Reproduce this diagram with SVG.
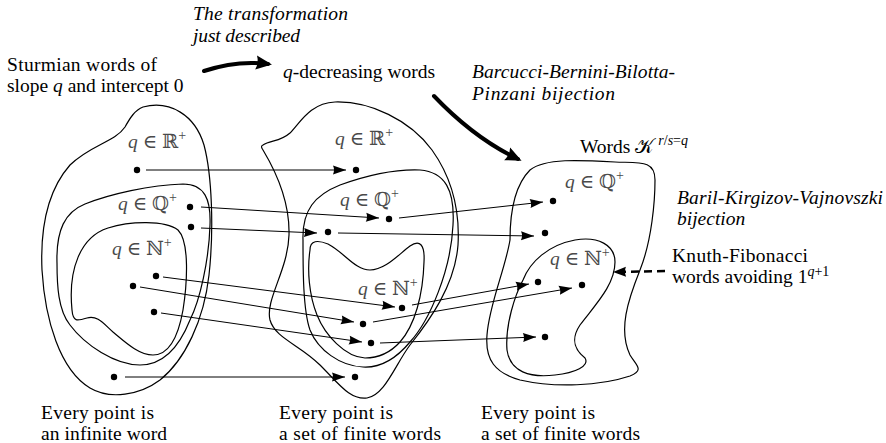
<svg xmlns="http://www.w3.org/2000/svg" width="886" height="443" viewBox="0 0 886 443">
<style>
  text { font-family: "Liberation Serif", "DejaVu Serif", serif; font-size: 19.5px; fill: #000; }
  .it { font-style: italic; }
  .lbl { fill: #4a4a4a; }
  .sup { font-size: 14px; }
  .blob { fill: none; stroke: #000; stroke-width: 1.2; }
  .dot { fill: #000; }
  .thin { fill: none; stroke: #000; stroke-width: 1; marker-end: url(#ah); }
  .thick { fill: none; stroke: #000; stroke-width: 4; stroke-linecap: round; marker-end: url(#ahb); }
  .dash { fill: none; stroke: #000; stroke-width: 2.5; stroke-dasharray: 8 5; marker-end: url(#ahd); }
</style>
<defs>
  <marker id="ah" markerUnits="userSpaceOnUse" markerWidth="14" markerHeight="10" refX="13" refY="4.5" orient="auto" overflow="visible">
    <path d="M0,0 L13,4.5 L0,9 Q2,4.5 0,0 z" fill="#000"/>
  </marker>
  <marker id="ahb" markerUnits="userSpaceOnUse" markerWidth="18" markerHeight="14" refX="12" refY="7" orient="auto" overflow="visible">
    <path d="M0,0 L16,7 L0,14 Q3,7 0,0 z" fill="#000"/>
  </marker>
  <marker id="ahd" markerUnits="userSpaceOnUse" markerWidth="14" markerHeight="10" refX="13" refY="5" orient="auto" overflow="visible">
    <path d="M0,0 L13,5 L0,10 Q2,5 0,0 z" fill="#000"/>
  </marker>
</defs>

<!-- captions -->
<g id="captions">
  <text class="it" x="193" y="20" textLength="155" lengthAdjust="spacing">The transformation</text>
  <text class="it" x="193" y="42" textLength="107" lengthAdjust="spacing">just described</text>
  <text x="7" y="71" textLength="150" lengthAdjust="spacing">Sturmian words of</text>
  <text x="7" y="92">slope <tspan class="it">q</tspan> and intercept 0</text>
  <text x="283" y="78"><tspan class="it">q</tspan>-decreasing words</text>
  <text class="it" x="472" y="78" textLength="203" lengthAdjust="spacing">Barcucci-Bernini-Bilotta-</text>
  <text class="it" x="472" y="100" textLength="143" lengthAdjust="spacing">Pinzani bijection</text>
  <text x="580" y="153">Words 𝒦<tspan class="sup it" dy="-8" dx="4">r</tspan><tspan class="sup">/</tspan><tspan class="sup it">s</tspan><tspan class="sup">=</tspan><tspan class="sup it">q</tspan></text>
  <text class="it" x="677" y="204" textLength="206" lengthAdjust="spacing">Baril-Kirgizov-Vajnovszki</text>
  <text class="it" x="677" y="225">bijection</text>
  <text x="672" y="262" textLength="136" lengthAdjust="spacing">Knuth-Fibonacci</text>
  <text x="672" y="283">words avoiding 1<tspan class="sup it" dy="-7">q</tspan><tspan class="sup">+1</tspan></text>
  <text x="41" y="419" textLength="113" lengthAdjust="spacing">Every point is</text>
  <text x="41" y="440" textLength="126" lengthAdjust="spacing">an infinite word</text>
  <text x="279" y="419" textLength="114" lengthAdjust="spacing">Every point is</text>
  <text x="279" y="440" textLength="162" lengthAdjust="spacing">a set of finite words</text>
  <text x="481" y="419" textLength="114" lengthAdjust="spacing">Every point is</text>
  <text x="481" y="440" textLength="159" lengthAdjust="spacing">a set of finite words</text>
</g>

<!-- left: Sturmian words -->
<g id="left-set">
  <path class="blob" d="M143,107 C170,100 195,115 204,145 C212,175 214,230 209,275 C204,320 185,360 160,380 C140,395 110,400 90,388 C60,370 45,320 42,270 C40,225 48,190 70,165 C90,145 115,142 125,127 C130,118 135,110 143,107 Z"/>
  <path class="blob" d="M57,263 C56,230 65,212 85,204 C110,194 150,185 183,184 C205,184 211,200 210,225 C209,260 200,300 190,320 C180,345 165,365 140,365 C115,365 85,345 70,325 C58,310 57,285 57,263 Z"/>
  <path class="blob" d="M72,310 C68,270 80,237 108,228 C130,221 165,220 178,230 C190,242 187,285 183,310 C178,338 168,355 153,355 C138,355 123,340 113,332 C103,323 97,315 87,318 C77,321 73,322 72,310 Z"/>
  <text class="lbl" x="128" y="148"><tspan class="it">q</tspan> ∈ ℝ<tspan class="sup" dy="-8">+</tspan></text>
  <text class="lbl" x="118" y="210"><tspan class="it">q</tspan> ∈ ℚ<tspan class="sup" dy="-8">+</tspan></text>
  <text class="lbl" x="112" y="255"><tspan class="it">q</tspan> ∈ ℕ<tspan class="sup" dy="-8">+</tspan></text>
  <circle class="dot" cx="137" cy="170" r="3.2"/>
  <circle class="dot" cx="190" cy="207" r="3.2"/>
  <circle class="dot" cx="191" cy="227" r="3.2"/>
  <circle class="dot" cx="156" cy="276" r="3.2"/>
  <circle class="dot" cx="133" cy="286" r="3.2"/>
  <circle class="dot" cx="154" cy="312" r="3.2"/>
  <circle class="dot" cx="114" cy="377" r="3.2"/>
</g>

<!-- middle: q-decreasing words -->
<g id="middle-set">
  <path class="blob" d="M263,145 C270,140 280,142 290,133 C300,123 310,103 335,102 C370,101 410,120 432,150 C452,178 460,210 458,245 C455,285 430,320 410,345 C395,365 385,395 367,398 C350,400 340,385 320,365 C300,345 275,338 270,320 C265,300 288,270 289,235 C290,200 275,170 263,150 C261,147 261,146 263,145 Z"/>
  <path class="blob" d="M303,240 C302,210 315,195 340,185 C365,176 395,169 420,170 C445,172 455,190 453,225 C451,270 430,320 410,342 C395,360 380,368 363,367 C340,366 318,350 310,330 C303,310 303,270 303,240 Z"/>
  <path class="blob" d="M310,250 C310,240 318,240 328,244 C345,253 355,270 370,270 C385,270 398,255 410,246 C420,239 425,245 424,262 C423,295 415,325 400,342 C390,353 378,358 365,358 C345,357 325,335 317,315 C309,295 307,270 310,250 Z"/>
  <text class="lbl" x="335" y="145"><tspan class="it">q</tspan> ∈ ℝ<tspan class="sup" dy="-8">+</tspan></text>
  <text class="lbl" x="340" y="206"><tspan class="it">q</tspan> ∈ ℚ<tspan class="sup" dy="-8">+</tspan></text>
  <text class="lbl" x="358" y="295"><tspan class="it">q</tspan> ∈ ℕ<tspan class="sup" dy="-8">+</tspan></text>
  <circle class="dot" cx="356" cy="170" r="3.2"/>
  <circle class="dot" cx="389" cy="219" r="3.2"/>
  <circle class="dot" cx="328" cy="232" r="3.2"/>
  <circle class="dot" cx="402" cy="308" r="3.2"/>
  <circle class="dot" cx="363" cy="324" r="3.2"/>
  <circle class="dot" cx="371" cy="343" r="3.2"/>
  <circle class="dot" cx="355" cy="377" r="3.2"/>
</g>

<!-- right: words K -->
<g id="right-set">
  <path class="blob" d="M510,240 C510,210 515,185 530,170 C545,158 580,160 615,162 C640,163 655,160 655,180 C655,200 652,240 640,270 C628,300 618,330 630,355 C636,365 645,370 630,376 C600,386 555,388 520,380 C495,373 485,360 487,335 C489,305 505,270 510,240 Z"/>
  <path class="blob" d="M523,280 C530,262 548,245 575,240 C598,236 615,245 615,262 C615,285 595,305 580,325 C570,340 575,350 585,358 C590,366 575,373 555,375 C530,378 510,372 507,350 C505,325 515,295 523,280 Z"/>
  <text class="lbl" x="565" y="188"><tspan class="it">q</tspan> ∈ ℚ<tspan class="sup" dy="-8">+</tspan></text>
  <text class="lbl" x="550" y="265"><tspan class="it">q</tspan> ∈ ℕ<tspan class="sup" dy="-8">+</tspan></text>
  <circle class="dot" cx="553" cy="201" r="3.2"/>
  <circle class="dot" cx="545" cy="233" r="3.2"/>
  <circle class="dot" cx="538" cy="282" r="3.2"/>
  <circle class="dot" cx="582" cy="285" r="3.2"/>
  <circle class="dot" cx="545" cy="337" r="3.2"/>
</g>

<!-- connectors -->
<g id="connectors">
  <path class="thick" d="M204,71 C225,64 245,61 268,64"/>
  <path class="thick" d="M434,96 C455,118 482,142 518,159"/>
  <line class="dash" x1="665" y1="271" x2="613" y2="272"/>
  <line class="thin" x1="146" y1="170" x2="346" y2="170"/>
  <line class="thin" x1="201" y1="207" x2="379" y2="218"/>
  <line class="thin" x1="201" y1="228" x2="317" y2="233"/>
  <line class="thin" x1="163" y1="277" x2="395" y2="307"/>
  <line class="thin" x1="140" y1="287" x2="354" y2="322"/>
  <line class="thin" x1="161" y1="313" x2="362" y2="342"/>
  <line class="thin" x1="125" y1="377" x2="345" y2="377"/>
  <line class="thin" x1="399" y1="218" x2="543" y2="202"/>
  <line class="thin" x1="338" y1="233" x2="534" y2="236"/>
  <line class="thin" x1="412" y1="305" x2="529" y2="284"/>
  <line class="thin" x1="373" y1="322" x2="572" y2="288"/>
  <line class="thin" x1="380" y1="343" x2="536" y2="337"/>
</g>
</svg>
